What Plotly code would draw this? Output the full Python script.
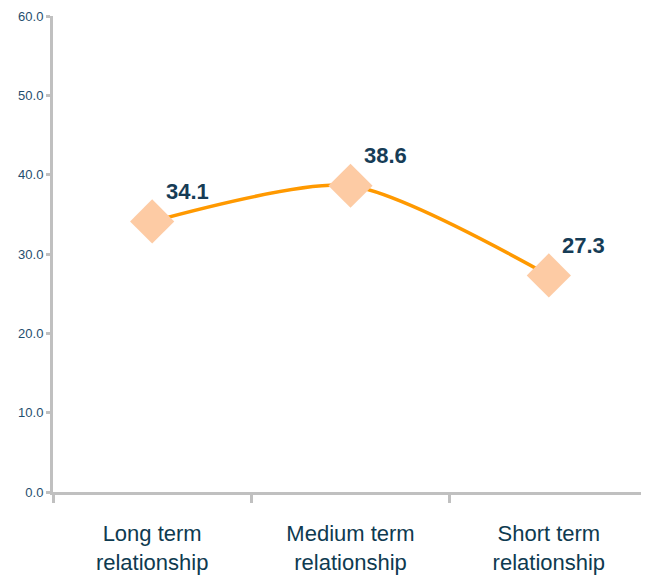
import plotly.graph_objects as go

categories = ["Long term<br>relationship", "Medium term<br>relationship", "Short term<br>relationship"]
values = [34.1, 38.6, 27.3]
y_ticks = [0, 10, 20, 30, 40, 50, 60]

fig = go.Figure()
fig.add_trace(go.Scatter(
    x=categories,
    y=values,
    mode="lines+markers",
    line=dict(color="#ff9900", width=3.5, shape="spline", smoothing=0.7),
    marker=dict(symbol="diamond", size=34, color="#fdcba4"),
    showlegend=False,
    hoverinfo="skip",
))

for c, v in zip(categories, values):
    fig.add_annotation(
        x=c, y=v, text=f"<b>{v:.1f}</b>", showarrow=False,
        xshift=35, yshift=30,
        font=dict(family="Liberation Sans, Arial", size=22, color="#163c56"),
    )

# the page body has an 8px margin, so the figure is shrunk by that much
fig.update_layout(
    width=641, height=571,
    margin=dict(l=45, r=1, t=8, b=87),
    plot_bgcolor="white",
    paper_bgcolor="white",
)
fig.update_xaxes(
    range=[-0.5, 2.5],
    showline=True, linecolor="#c0c0c0", linewidth=3,
    ticks="outside", tickson="boundaries", ticklen=8, tickwidth=3, tickcolor="#c0c0c0",
    showgrid=False, zeroline=False, automargin=False, ticklabelstandoff=20,
    tickfont=dict(family="Liberation Sans, Arial", size=22, color="#0e3a50"),
)
fig.update_yaxes(
    range=[0, 60], tickvals=y_ticks, tickformat=".1f",
    showline=True, linecolor="#c0c0c0", linewidth=3,
    ticks="outside", ticklen=4, tickwidth=3, tickcolor="#c0c0c0",
    showgrid=False, zeroline=False, automargin=False,
    tickfont=dict(family="Liberation Sans, Arial", size=13, color="#1f4e6e"),
)

fig.write_html("out.html")
